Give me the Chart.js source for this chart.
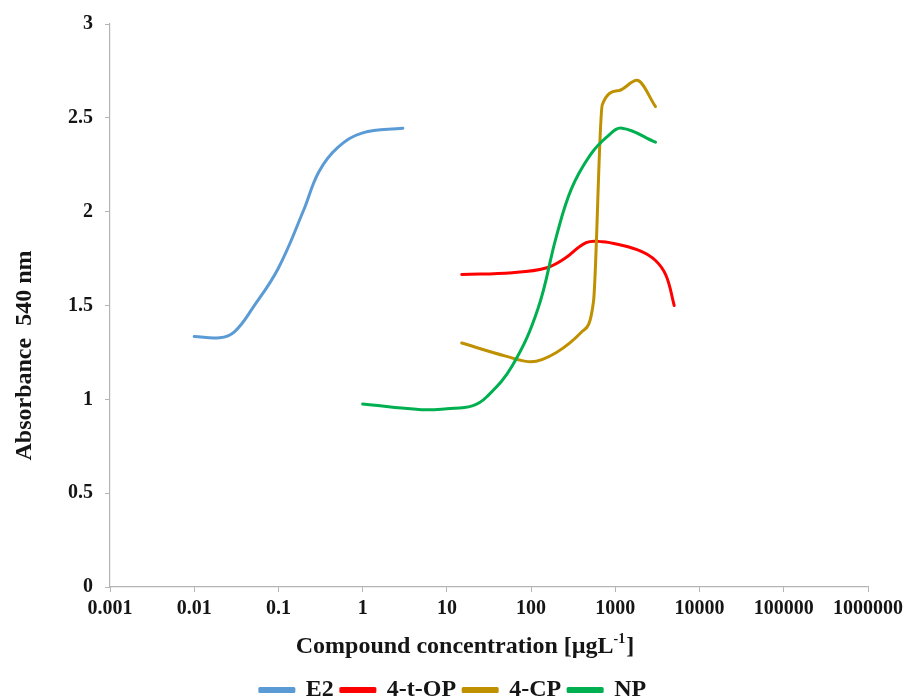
<!DOCTYPE html>
<html>
<head>
<meta charset="utf-8">
<script src="https://cdn.jsdelivr.net/npm/chart.js@4.4.1/dist/chart.umd.min.js"></script>
<style>
  html, body { margin: 0; padding: 0; background: #ffffff; }
  #wrap { width: 906px; height: 696px; }
</style>
</head>
<body>
<div id="wrap"><canvas id="chart" width="906" height="696"></canvas></div>
<script>
// Dose-response readings: concentration (µg/L) and absorbance at 540 nm
const e2Conc  = [0.01, 0.02, 0.03, 0.05, 0.1, 0.2, 0.3, 0.5, 1, 3];
const e2Abs   = [1.335, 1.328, 1.36, 1.49, 1.70, 2.01, 2.21, 2.34, 2.42, 2.445];

const topConc = [15, 60, 150, 250, 450, 700, 1100, 2000, 3000, 4000, 5000];
const topAbs  = [1.665, 1.675, 1.70, 1.75, 1.835, 1.84, 1.825, 1.79, 1.74, 1.66, 1.50];

const cpConc  = [15, 50, 100, 200, 400, 550, 700, 1100, 1800, 3000];
const cpAbs   = [1.30, 1.23, 1.20, 1.25, 1.36, 1.52, 2.57, 2.645, 2.70, 2.56];

const npConc  = [1, 5, 10, 20, 30, 60, 120, 200, 300, 500, 800, 1200, 3000];
const npAbs   = [0.975, 0.945, 0.95, 0.965, 1.015, 1.18, 1.48, 1.87, 2.12, 2.30, 2.40, 2.445, 2.37];

const seriesNames  = ['E2', '4-t-OP', '4-CP', 'NP'];
const seriesColors = ['#5B9BD5', '#FF0000', '#BF9000', '#00B050'];

const xTickValues = [0.001, 0.01, 0.1, 1, 10, 100, 1000, 10000, 100000, 1000000];
const xTickLabels = ['0.001', '0.01', '0.1', '1', '10', '100', '1000', '10000', '100000', '1000000'];
const yTickValues = [0, 0.5, 1, 1.5, 2, 2.5, 3];
const yTickLabels = ['0', '0.5', '1', '1.5', '2', '2.5', '3'];

const xTitleMain = 'Compound concentration [µgL';
const xTitleSup  = '-1';
const xTitleEnd  = ']';
const yTitleText = 'Absorbance  540 nm';

const SERIF = "'Liberation Serif', 'Times New Roman', serif";
const INK = '#151515';
const AXIS = '#b4b4b4';

function pairs(xs, ys) { return xs.map((x, i) => ({ x: x, y: ys[i] })); }

const seriesData = [pairs(e2Conc, e2Abs), pairs(topConc, topAbs), pairs(cpConc, cpAbs), pairs(npConc, npAbs)];

const datasets = seriesNames.map((name, i) => ({
  label: name,
  data: seriesData[i],
  borderColor: seriesColors[i],
  backgroundColor: seriesColors[i],
  borderWidth: 3,
  pointRadius: 0,
  pointHoverRadius: 0,
  showLine: true,
  tension: 0.4,
  cubicInterpolationMode: i === 2 ? 'monotone' : 'default',
  borderCapStyle: 'round',
  borderJoinStyle: 'round',
  order: seriesNames.length - i   // later series painted on top
}));

// Axis titles (the x title carries a superscript, so both are painted here)
const axisTitles = {
  id: 'axisTitles',
  afterDraw(chart) {
    const { ctx, chartArea } = chart;
    ctx.save();
    ctx.fillStyle = INK;
    ctx.textBaseline = 'middle';

    // x title
    const mainFont = "bold 24px " + SERIF;
    const supFont = "bold 14px " + SERIF;
    ctx.font = mainFont;
    const wMain = ctx.measureText(xTitleMain).width;
    const wEnd = ctx.measureText(xTitleEnd).width;
    ctx.font = supFont;
    const wSup = ctx.measureText(xTitleSup).width;
    const total = wMain + wSup + wEnd + 1;
    const cx = (chartArea.left + chartArea.right) / 2 - 24;
    const cy = chartArea.bottom + 60;
    let x = cx - total / 2;
    ctx.textAlign = 'left';
    ctx.font = mainFont;
    ctx.fillText(xTitleMain, x, cy);
    x += wMain;
    ctx.font = supFont;
    ctx.fillText(xTitleSup, x, cy - 8);
    x += wSup + 1;
    ctx.font = mainFont;
    ctx.fillText(xTitleEnd, x, cy);

    // y title
    ctx.font = "bold 24px " + SERIF;
    ctx.textAlign = 'center';
    ctx.translate(chartArea.left - 85, (chartArea.top + chartArea.bottom) / 2 + 50);
    ctx.rotate(-Math.PI / 2);
    ctx.fillText(yTitleText, 0, 0);
    ctx.restore();
  }
};

new Chart(document.getElementById('chart'), {
  type: 'scatter',
  data: { datasets: datasets },
  plugins: [axisTitles],
  options: {
    responsive: false,
    animation: false,
    events: [],
    layout: { padding: { left: 0, right: 0, top: 22, bottom: -16 } },
    plugins: {
      tooltip: { enabled: false },
      legend: {
        display: true,
        position: 'bottom',
        labels: {
          boxWidth: 34,
          boxHeight: 3,
          padding: 7,
          color: INK,
          font: { family: SERIF, size: 24, weight: 'bold' },
          sort: (a, b) => a.datasetIndex - b.datasetIndex
        }
      }
    },
    scales: {
      x: {
        type: 'logarithmic',
        min: xTickValues[0],
        max: xTickValues[xTickValues.length - 1],
        afterBuildTicks(scale) {
          scale.ticks = xTickValues.map(v => ({ value: v, major: true }));
        },
        afterFit(scale) {
          scale.height = 84;
          scale.paddingLeft = 0;
          scale.paddingRight = 38;
        },
        ticks: {
          autoSkip: false,
          maxRotation: 0,
          padding: 5,
          color: INK,
          font: { family: SERIF, size: 20, weight: 'bold' },
          callback(value, index) { return xTickLabels[index]; }
        },
        grid: { display: true, drawOnChartArea: false, drawTicks: true, tickLength: 5, color: AXIS, lineWidth: 1 },
        border: { display: true, color: AXIS, width: 1.2 },
        title: { display: false }
      },
      y: {
        type: 'linear',
        min: yTickValues[0],
        max: yTickValues[yTickValues.length - 1],
        afterBuildTicks(scale) {
          scale.ticks = yTickValues.map(v => ({ value: v }));
        },
        afterFit(scale) { scale.width = 110; },
        ticks: {
          padding: 12,
          color: INK,
          font: { family: SERIF, size: 20, weight: 'bold' },
          callback(value, index) { return yTickLabels[index]; }
        },
        grid: { display: true, drawOnChartArea: false, drawTicks: true, tickLength: 5, color: AXIS, lineWidth: 1 },
        border: { display: true, color: AXIS, width: 1.2 },
        title: { display: false }
      }
    }
  }
});
</script>
</body>
</html>
